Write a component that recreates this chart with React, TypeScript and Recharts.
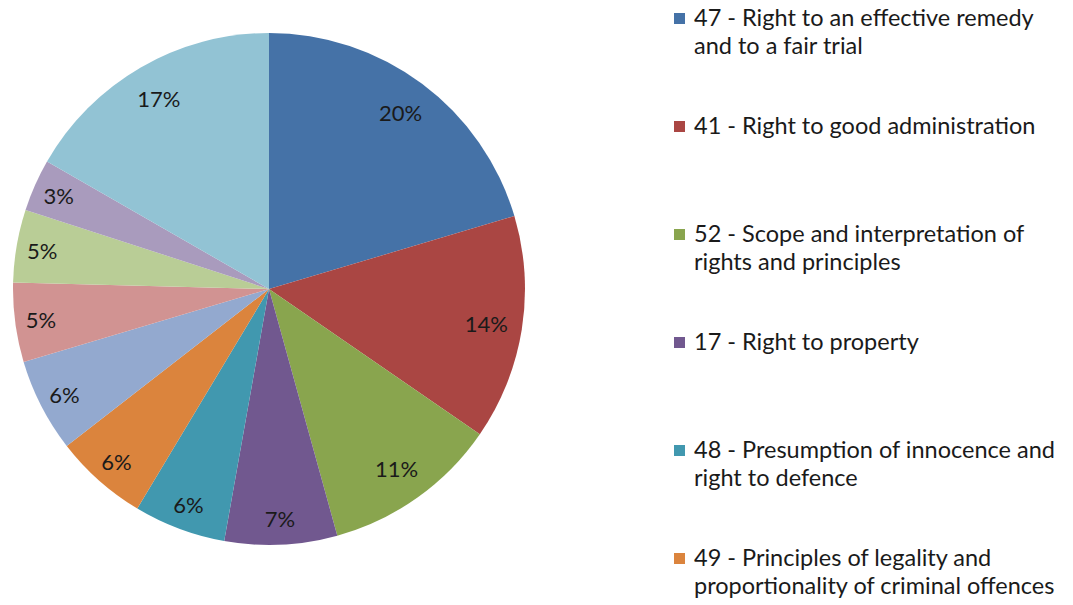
import React from "react";
import { PieChart, Pie, Cell, Legend } from "recharts";

const articleNames: string[] = [
  "47 - Right to an effective remedy\nand to a fair trial",
  "41 - Right to good administration",
  "52 - Scope and interpretation of\nrights and principles",
  "17 - Right to property",
  "48 - Presumption of innocence and\nright to defence",
  "49 - Principles of legality and\nproportionality of criminal offences",
  "",
  "",
  "",
  "",
  "",
];

const shareValues: number[] = [20.4, 14.2, 11.1, 7.1, 5.8, 5.9, 5.9, 5.0, 4.6, 3.3, 16.7];

const sliceColors: string[] = [
  "#4572A7",
  "#AA4643",
  "#89A54E",
  "#71588F",
  "#4198AF",
  "#DB843D",
  "#93A9CF",
  "#D19392",
  "#B9CD96",
  "#A99BBD",
  "#92C3D4",
];

const data = shareValues.map((v, i) => ({ name: articleNames[i], value: v }));

const FONT = "Lato, 'Open Sans', sans-serif";
const RAD = Math.PI / 180;

const renderLabel = (props: any) => {
  const { cx, cy, midAngle, outerRadius, percent } = props;
  const r = outerRadius - (percent > 0.1 ? 36 : 26);
  const x = cx + r * Math.cos(-midAngle * RAD);
  const y = cy + r * Math.sin(-midAngle * RAD);
  return (
    <text
      x={x}
      y={y}
      textAnchor="middle"
      dominantBaseline="central"
      fill="#1a1a1a"
      fontSize={22}
      fontFamily={FONT}
    >
      {`${Math.round(percent * 100)}%`}
    </text>
  );
};

const LegendContent = () => (
  <div style={{ fontFamily: FONT, fontSize: 23.5, color: "#1a1a1a" }}>
    {data.map((d, i) =>
      d.name ? (
        <div
          key={i}
          style={{
            position: "absolute",
            left: 0,
            top: i * 108,
            display: "flex",
            alignItems: "flex-start",
          }}
        >
          <div
            style={{
              width: 11,
              height: 11,
              background: sliceColors[i],
              marginTop: 10,
              marginRight: 9,
              flexShrink: 0,
            }}
          />
          <div style={{ whiteSpace: "pre", lineHeight: "28px" }}>{d.name}</div>
        </div>
      ) : null
    )}
  </div>
);

export default function App() {
  return (
    <div
      style={{
        position: "absolute",
        left: 0,
        top: 0,
        width: 1073,
        height: 605,
        overflow: "hidden",
        background: "#ffffff",
      }}
    >
      <PieChart width={1073} height={605} margin={{ top: 0, right: 0, bottom: 0, left: 0 }}>
        <Pie
          data={data}
          dataKey="value"
          nameKey="name"
          cx={269}
          cy={289}
          outerRadius={256}
          startAngle={90}
          endAngle={-270}
          stroke="none"
          label={renderLabel}
          labelLine={false}
          isAnimationActive={false}
        >
          {data.map((d, i) => (
            <Cell key={i} fill={sliceColors[i]} />
          ))}
        </Pie>
        <Legend
          content={<LegendContent />}
          wrapperStyle={{ position: "absolute", left: 674, top: 3, width: 399, height: 602 }}
        />
      </PieChart>
    </div>
  );
}
